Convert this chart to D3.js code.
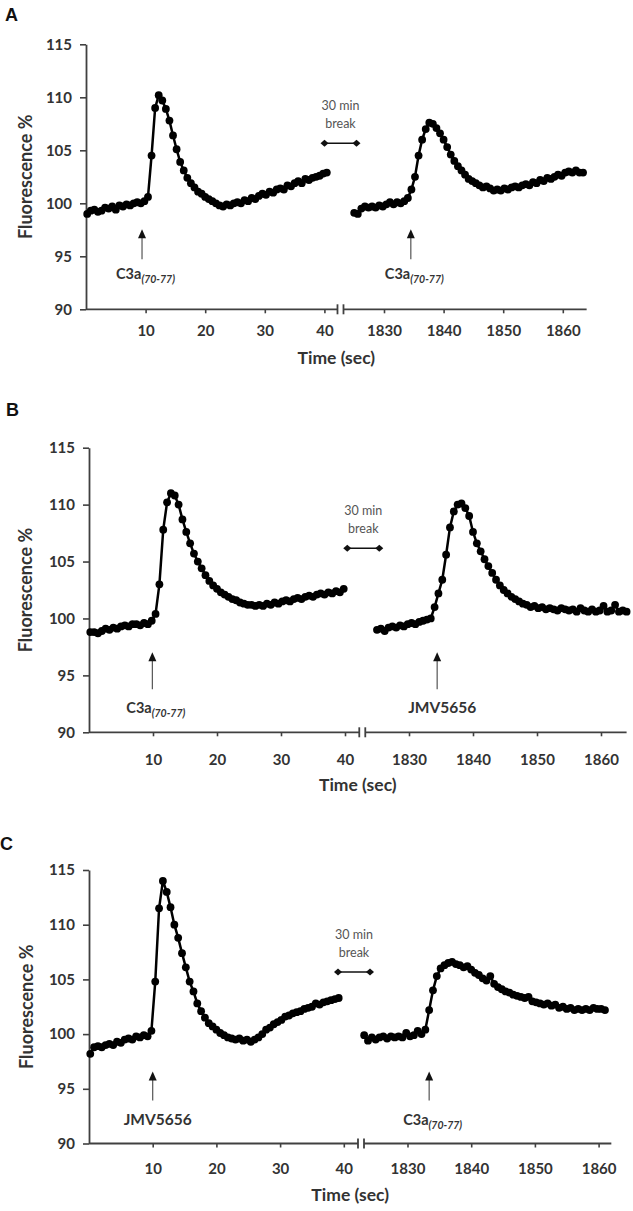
<!DOCTYPE html>
<html><head><meta charset="utf-8">
<script src="https://cdn.jsdelivr.net/npm/d3@7"></script>
<style>body{margin:0;background:#fff}</style>
</head><body><svg id="c" width="633" height="1211"></svg>
<script>
// ---------- data ----------
const yTickValues = [90, 95, 100, 105, 110, 115];
const xTickValues = [10, 20, 30, 40, 1830, 1840, 1850, 1860];
const sampleStep = 0.6; // seconds between samples

const startA1 = 0.2, startA2 = 1825.0;
const valuesA1 = [99.0, 99.3, 99.4, 99.2, 99.3, 99.6, 99.5, 99.7, 99.4, 99.8,
  99.7, 99.9, 99.8, 100.0, 100.1, 100.0, 100.2, 100.6, 104.5, 109.0,
  110.2, 109.7, 108.9, 107.8, 106.4, 105.1, 103.9, 103.1, 102.4, 101.9,
  101.5, 101.1, 100.9, 100.6, 100.4, 100.2, 100.0, 99.8, 99.7, 99.9,
  99.8, 100.0, 100.1, 100.0, 100.3, 100.2, 100.5, 100.4, 100.7, 100.9,
  100.8, 101.1, 101.0, 101.3, 101.4, 101.3, 101.7, 101.6, 101.9, 102.1,
  101.9, 102.3, 102.2, 102.4, 102.5, 102.6, 102.8, 102.9];
const valuesA2 = [99.1, 99.0, 99.5, 99.7, 99.6, 99.7, 99.6, 99.8, 99.7, 99.9,
  100.1, 99.9, 100.1, 100.0, 100.2, 100.5, 101.3, 102.5, 104.5, 106.0,
  107.0, 107.6, 107.5, 107.1, 106.6, 106.0, 105.3, 104.6, 104.0, 103.5,
  103.1, 102.7, 102.3, 102.1, 101.9, 101.7, 101.5, 101.6, 101.4, 101.2,
  101.3, 101.2, 101.4, 101.3, 101.5, 101.6, 101.5, 101.7, 101.8, 101.7,
  102.0, 101.9, 102.2, 102.1, 102.4, 102.3, 102.5, 102.7, 102.6, 102.9,
  103.0, 102.9, 103.1, 102.9, 102.9];

const startB1 = 0.2, startB2 = 1825.0;
const valuesB1 = [98.8, 98.8, 98.7, 98.9, 99.1, 99.0, 99.2, 99.1, 99.3, 99.4,
  99.3, 99.5, 99.5, 99.4, 99.6, 99.5, 99.8, 100.4, 103.0, 107.8,
  110.2, 111.0, 110.8, 110.0, 108.7, 107.6, 106.6, 105.7, 105.0, 104.4,
  103.8, 103.3, 102.9, 102.6, 102.3, 102.1, 101.9, 101.7, 101.6, 101.4,
  101.3, 101.2, 101.2, 101.1, 101.2, 101.1, 101.3, 101.2, 101.4, 101.3,
  101.5, 101.6, 101.5, 101.7, 101.8, 101.7, 101.9, 102.0, 101.9, 102.1,
  102.2, 102.1, 102.3, 102.2, 102.4, 102.3, 102.6];
const valuesB2 = [99.0, 99.1, 98.9, 99.2, 99.3, 99.2, 99.4, 99.3, 99.5, 99.6,
  99.5, 99.7, 99.8, 99.9, 100.0, 101.0, 102.2, 103.4, 105.6, 108.0,
  109.4, 110.0, 110.1, 109.7, 109.0, 107.6, 106.6, 105.9, 105.2, 104.6,
  104.0, 103.4, 102.9, 102.5, 102.2, 101.9, 101.7, 101.5, 101.3, 101.2,
  101.0, 101.1, 100.9, 101.0, 100.8, 100.9, 100.8, 100.7, 100.9, 100.8,
  100.7, 100.8, 100.6, 100.9, 100.7, 100.6, 100.8, 100.6, 100.7, 101.1,
  100.6, 100.7, 101.2, 100.6, 100.7, 100.6];

const startC1 = 0.2, startC2 = 1823.2;
const valuesC1 = [98.2, 98.8, 98.9, 98.8, 99.0, 99.1, 99.0, 99.3, 99.2, 99.5,
  99.6, 99.5, 99.8, 99.7, 99.9, 99.8, 100.3, 104.8, 111.5, 114.0,
  113.0, 111.6, 110.0, 108.8, 107.4, 106.1, 104.8, 103.9, 102.8, 102.1,
  101.5, 101.0, 100.7, 100.4, 100.1, 99.9, 99.7, 99.6, 99.5, 99.6,
  99.4, 99.5, 99.3, 99.5, 99.7, 100.0, 100.4, 100.6, 100.9, 101.1,
  101.3, 101.6, 101.7, 101.9, 102.0, 102.1, 102.3, 102.4, 102.5, 102.8,
  102.7, 102.9, 103.0, 103.1, 103.2, 103.3];
const valuesC2 = [99.9, 99.4, 99.7, 99.5, 99.7, 99.8, 99.6, 99.8, 99.7, 99.8,
  99.7, 100.1, 99.8, 99.9, 100.3, 100.0, 100.4, 102.2, 104.0, 105.3,
  106.0, 106.3, 106.5, 106.6, 106.4, 106.3, 106.1, 106.2, 105.9, 105.6,
  105.4, 105.1, 104.9, 105.3, 104.6, 104.3, 104.1, 103.9, 103.8, 103.6,
  103.5, 103.4, 103.3, 103.4, 103.0, 102.9, 102.8, 102.7, 102.8, 102.6,
  102.7, 102.4, 102.5, 102.3, 102.4, 102.2, 102.3, 102.2, 102.3, 102.2,
  102.4, 102.3, 102.3, 102.2];

const stimTimesA = [9.4, 1834.5];
const stimTimesB = [9.9, 1834.4];
const stimTimesC = [10.0, 1833.4];
const stimNamesA = ["C3a", "C3a"];
const stimNamesB = ["C3a", "JMV5656"];
const stimNamesC = ["JMV5656", "C3a"];
const c3aSubscript = "(70-77)";
const breakText = ["30 min", "break"];
const panelLetters = ["A", "B", "C"];
const xTitle = "Time (sec)";
const yTitle = "Fluorescence %";
const timeOffset = 1780; // display offset of the second recording

// ---------- layout ----------
const layouts = [
  {x0: 86, unit: 5.96, dEnd: 84, yTop: 44.3, yBot: 309.3, lx: 5, ly: 21, ytx: 26,
   tickPad: 12, titleY: 364, tip: 80, tend: 50, labUp: 30, brUp: 166, brDx: 0},
  {x0: 89, unit: 6.4, dEnd: 84, yTop: 447.7, yBot: 732.3, lx: 6, ly: 416, ytx: 26,
   tickPad: 18, titleY: 791, tip: 80, tend: 43, labUp: 19, brUp: 184, brDx: 1},
  {x0: 89, unit: 6.37, dEnd: 82, yTop: 870, yBot: 1143.5, lx: 0, ly: 850, ytx: 27,
   tickPad: 16, titleY: 1201, tip: 72, tend: 43, labUp: 19, brUp: 171.5, brDx: -7}
];
const breakAt = 42.7;

const panels = [
  {segs: [[startA1, valuesA1], [startA2, valuesA2]], stim: stimTimesA, names: stimNamesA},
  {segs: [[startB1, valuesB1], [startB2, valuesB2]], stim: stimTimesB, names: stimNamesB},
  {segs: [[startC1, valuesC1], [startC2, valuesC2]], stim: stimTimesC, names: stimNamesC}
];

const svg = d3.select("#c");
const FONT = "Lato, 'Open Sans', sans-serif";
const AX = "#404040";

panels.forEach((p, pi) => {
  const L = layouts[pi];
  const g = svg.append("g");
  const xb = L.x0 + breakAt * L.unit;
  const x = d3.scaleLinear()
    .domain([0, breakAt, breakAt + timeOffset, L.dEnd + timeOffset])
    .range([L.x0, xb, xb, L.x0 + L.dEnd * L.unit]);
  const y = d3.scaleLinear().domain([90, 115]).range([L.yBot, L.yTop]);

  // panel letter
  g.append("text").attr("x", L.lx).attr("y", L.ly).text(panelLetters[pi])
    .attr("font-family", "'Liberation Sans', Arial, sans-serif").attr("font-weight", "bold")
    .attr("font-size", 18).attr("fill", "#111");

  // y axis
  const ya = g.append("g").attr("transform", `translate(${L.x0},0)`)
    .call(d3.axisLeft(y).tickValues(yTickValues).tickSize(6).tickSizeOuter(0).tickPadding(8));
  ya.select(".domain").attr("stroke", AX).attr("stroke-width", 1.8);
  ya.selectAll(".tick line").attr("stroke", AX).attr("stroke-width", 1.6);
  ya.selectAll(".tick text").attr("font-family", FONT).attr("font-weight", "bold")
    .attr("font-size", 15).attr("fill", "#333");

  // x axis
  const xa = g.append("g").attr("transform", `translate(0,${L.yBot})`)
    .call(d3.axisBottom(x).tickValues(xTickValues).tickFormat(d3.format("d"))
      .tickSize(4).tickSizeOuter(0).tickPadding(L.tickPad));
  xa.select(".domain").remove();
  xa.selectAll(".tick line").attr("stroke", AX).attr("stroke-width", 1.6);
  xa.selectAll(".tick text").attr("font-family", FONT).attr("font-weight", "bold")
    .attr("font-size", 15).attr("fill", "#333");
  // broken axis line
  const xEnd = x(L.dEnd + timeOffset);
  g.append("line").attr("x1", L.x0).attr("x2", xb - 3).attr("y1", L.yBot).attr("y2", L.yBot)
    .attr("stroke", AX).attr("stroke-width", 1.8);
  g.append("line").attr("x1", xb + 3).attr("x2", xEnd).attr("y1", L.yBot).attr("y2", L.yBot)
    .attr("stroke", AX).attr("stroke-width", 1.8);
  [-3, 3].forEach(o => g.append("line").attr("x1", xb + o).attr("x2", xb + o)
    .attr("y1", L.yBot - 5).attr("y2", L.yBot + 5).attr("stroke", AX).attr("stroke-width", 1.8));

  // titles
  g.append("text").attr("x", (L.x0 + xEnd) / 2).attr("y", L.titleY).attr("text-anchor", "middle")
    .text(xTitle).attr("font-family", FONT).attr("font-weight", "bold").attr("font-size", 17.5).attr("fill", "#333");
  g.append("text").attr("transform", `translate(${L.ytx},${(L.yTop + L.yBot) / 2}) rotate(-90)`)
    .attr("text-anchor", "middle").attr("dy", "0.35em")
    .text(yTitle).attr("font-family", FONT).attr("font-weight", "bold").attr("font-size", 18).attr("fill", "#333");

  // data
  const line = d3.line().x(d => x(d[0])).y(d => y(d[1]));
  p.segs.forEach(([t0, vals]) => {
    const pts = vals.map((v, i) => [t0 + i * sampleStep, v]);
    g.append("path").datum(pts).attr("d", line).attr("fill", "none")
      .attr("stroke", "#000").attr("stroke-width", 2.5);
    g.selectAll(null).data(pts).join("circle")
      .attr("cx", d => x(d[0])).attr("cy", d => y(d[1])).attr("r", 3.9).attr("fill", "#000");
  });

  // stimulus arrows + labels
  p.stim.forEach((t, i) => {
    const ax = x(t);
    const tipY = L.yBot - L.tip;
    g.append("line").attr("x1", ax).attr("x2", ax).attr("y1", tipY + 7).attr("y2", L.yBot - L.tend)
      .attr("stroke", "#555").attr("stroke-width", 1.2);
    g.append("path").attr("d", `M${ax},${tipY} L${ax - 4},${tipY + 9} L${ax + 4},${tipY + 9} Z`).attr("fill", "#111");
    const name = p.names[i];
    const ty = L.yBot - L.labUp;
    if (name === "C3a") {
      const tx = g.append("text").attr("x", ax - 26).attr("y", ty)
        .attr("font-family", FONT).attr("font-weight", "bold").attr("font-size", 14.5).attr("fill", "#333");
      tx.append("tspan").text("C3a");
      tx.append("tspan").attr("dy", 4).attr("font-size", 10.5).attr("font-style", "italic").text(c3aSubscript);
    } else {
      g.append("text").attr("x", ax + 5).attr("y", ty).attr("text-anchor", "middle")
        .attr("font-family", FONT).attr("font-weight", "bold").attr("font-size", 15.5).attr("fill", "#333").text(name);
    }
  });

  // 30 min break marker
  const bx = xb + L.brDx;
  const by = L.yBot - L.brUp;
  g.append("text").attr("x", bx).attr("y", by - 33).attr("text-anchor", "middle")
    .attr("font-family", FONT).attr("font-size", 12.5).attr("fill", "#555").text(breakText[0]);
  g.append("text").attr("x", bx).attr("y", by - 15).attr("text-anchor", "middle")
    .attr("font-family", FONT).attr("font-size", 12.5).attr("fill", "#555").text(breakText[1]);
  g.append("line").attr("x1", bx - 16).attr("x2", bx + 16).attr("y1", by).attr("y2", by)
    .attr("stroke", "#111").attr("stroke-width", 1.6);
  [-16, 16].forEach(o => g.append("path")
    .attr("d", `M${bx + o - 4},${by} L${bx + o},${by - 3.5} L${bx + o + 4},${by} L${bx + o},${by + 3.5} Z`)
    .attr("fill", "#111"));
});
</script>
</body></html>
